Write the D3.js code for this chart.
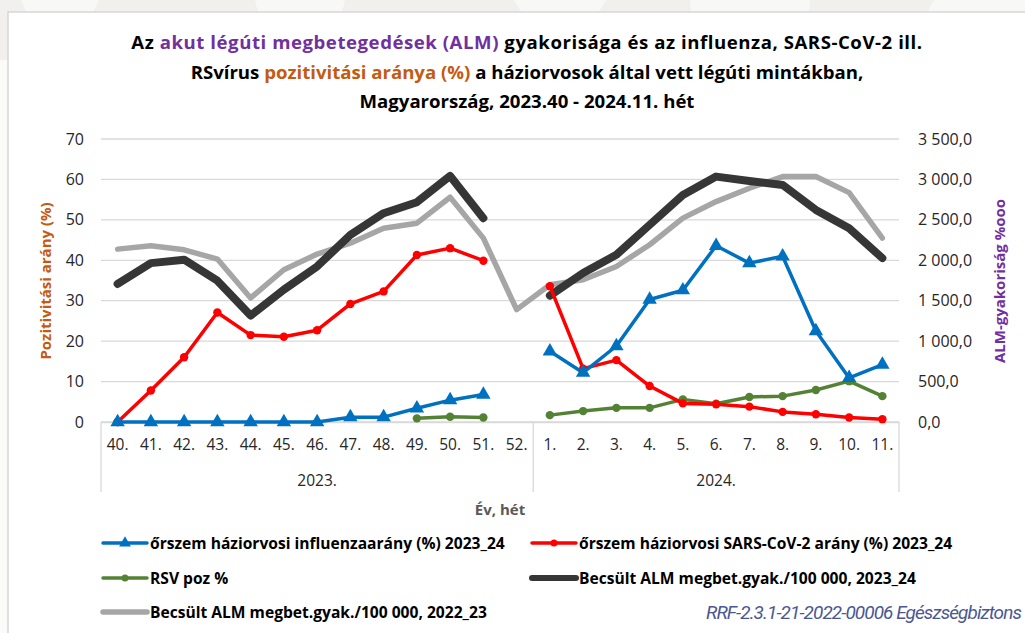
<!DOCTYPE html>
<html><head><meta charset="utf-8">
<script src="https://cdn.jsdelivr.net/npm/d3@7/dist/d3.min.js"></script>
<style>html,body{margin:0;padding:0;background:#f1f0ed;}svg{display:block;}</style>
</head><body>
<svg id="c" width="1025" height="633"></svg>
<script>
// ---- data ----
const weeks = ["40.","41.","42.","43.","44.","45.","46.","47.","48.","49.","50.","51.","52.","1.","2.","3.","4.","5.","6.","7.","8.","9.","10.","11."];
const years = [{label:"2023.", from:0, to:13},{label:"2024.", from:13, to:24}];
const influenza = [0,0,0,0,0,0,0,1.2,1.2,3.4,5.4,6.8,null,17.5,12.2,18.8,30.3,32.6,43.6,39.3,41.0,22.5,10.9,14.2];
const sarsCov2 = [0,7.8,16.0,27.1,21.5,21.1,22.7,29.2,32.3,41.3,43.0,39.9,null,33.6,13.2,15.3,8.9,4.6,4.4,3.8,2.5,1.9,1.1,0.7];
const rsv = [0,null,null,null,null,null,null,null,null,0.9,1.3,1.1,null,1.7,2.7,3.5,3.5,5.6,4.5,6.2,6.4,7.9,10.1,6.4];
const alm2324 = [1707,1965,2007,1748,1316,1637,1924,2315,2582,2718,3043,2521,null,1563,1842,2068,2438,2808,3035,2981,2932,2623,2397,2027];
const alm2223 = [2138,2179,2130,2015,1534,1883,2077,2212,2397,2459,2780,2274,1390,1698,1760,1924,2192,2521,2726,2891,3035,3035,2837,2274];
const leftTicks = [0,10,20,30,40,50,60,70];
const rightTicks = [0,500,1000,1500,2000,2500,3000,3500];
const titleLines = [
  [["Az ","#000"],["akut légúti megbetegedések (ALM)","#7030a0"],[" gyakorisága és az influenza, SARS-CoV-2 ill.","#000"]],
  [["RSvírus ","#000"],["pozitivitási aránya (%)","#c55a11"],[" a háziorvosok által vett légúti mintákban,","#000"]],
  [["Magyarország, 2023.40 - 2024.11. hét","#000"]]
];
const seriesNames = ["őrszem háziorvosi influenzaarány (%) 2023_24","őrszem háziorvosi SARS-CoV-2 arány (%) 2023_24","RSV poz %","Becsült ALM megbet.gyak./100 000, 2023_24","Becsült ALM megbet.gyak./100 000, 2022_23"];
const footerText = "RRF-2.3.1-21-2022-00006 Egészségbiztons";

// ---- layout ----
const svg = d3.select("#c");
const FONT = "'Open Sans', Lato, sans-serif";
const plot = {l:101, r:899, t:139, b:422};

// background decoration
const bg = svg.append("g");
bg.append("rect").attr("width",1025).attr("height",633).attr("fill","#f1f0ed");
[[60,-10,40],[300,-5,45],[560,-20,50],[750,0,60],[980,30,55]].forEach(c=>{
  bg.append("circle").attr("cx",c[0]).attr("cy",c[1]).attr("r",c[2]).attr("fill","#f8f8f6");
});
bg.append("rect").attr("x",0).attr("y",60).attr("width",8).attr("height",573).attr("fill","#fbfbfa");
svg.append("rect").attr("x",8).attr("y",12).attr("width",1030).attr("height",640)
  .attr("fill","#fff").attr("stroke","#d6d6d6").attr("stroke-width",1.5);

const x = d3.scaleBand().domain(d3.range(weeks.length)).range([plot.l, plot.r]);
const yL = d3.scaleLinear().domain([0,70]).range([plot.b, plot.t]);
const yR = d3.scaleLinear().domain([0,3500]).range([plot.b, plot.t]);
const cx = i => x(i) + x.bandwidth()/2;

// gridlines
svg.append("g").selectAll("line").data(leftTicks).join("line")
  .attr("x1",plot.l).attr("x2",plot.r).attr("y1",d=>yL(d)).attr("y2",d=>yL(d))
  .attr("stroke","#d9d9d9").attr("stroke-width",1.3);

// left axis
const axL = svg.append("g").attr("transform",`translate(${plot.l-17},0)`)
  .call(d3.axisLeft(yL).tickValues(leftTicks).tickSize(0).tickPadding(0));
axL.select(".domain").remove();
axL.selectAll("text").attr("font-family",FONT).attr("font-size",16).attr("fill","#262626");

// right axis
const fmtR = d => d3.format(",.1f")(d).replace(/,/g," ").replace(".",",");
const axR = svg.append("g").attr("transform",`translate(${plot.r+19},0)`)
  .call(d3.axisRight(yR).tickValues(rightTicks).tickSize(0).tickPadding(0).tickFormat(fmtR));
axR.select(".domain").remove();
axR.selectAll("text").attr("font-family",FONT).attr("font-size",16).attr("fill","#262626");

// x axis (categories)
const axX = svg.append("g").attr("transform",`translate(0,${plot.b})`)
  .call(d3.axisBottom(x).tickSize(0).tickPadding(17).tickFormat(i=>weeks[i]));
axX.select(".domain").attr("stroke","#d9d9d9").attr("stroke-width",1.3);
axX.selectAll("text").attr("font-family",FONT).attr("font-size",15.5).attr("fill","#262626");
// group separators
const seps = [0,13,24].map(i => i<weeks.length ? x(i) : plot.r);
svg.append("g").selectAll("line").data(seps).join("line")
  .attr("x1",d=>d).attr("x2",d=>d).attr("y1",plot.b).attr("y2",492)
  .attr("stroke","#d9d9d9").attr("stroke-width",1.3);
svg.append("g").selectAll("text").data(years).join("text")
  .attr("x",d=>(x(d.from) + (d.to<weeks.length?x(d.to):plot.r))/2).attr("y",486)
  .attr("text-anchor","middle").attr("font-family",FONT).attr("font-size",15.5).attr("fill","#262626")
  .text(d=>d.label);
svg.append("text").attr("x",500).attr("y",515).attr("text-anchor","middle")
  .attr("font-family",FONT).attr("font-weight","bold").attr("font-size",15).attr("fill","#595959").text("Év, hét");

// axis titles
svg.append("text").attr("transform","translate(51,281) rotate(-90)").attr("text-anchor","middle")
  .attr("font-family",FONT).attr("font-weight","bold").attr("font-size",15).attr("fill","#c55a11").text("Pozitivitási arány (%)");
svg.append("text").attr("transform","translate(1005,281) rotate(-90)").attr("text-anchor","middle")
  .attr("font-family",FONT).attr("font-weight","bold").attr("font-size",15).attr("fill","#7030a0").text("ALM-gyakoriság %ooo");

// title
const tg = svg.append("g");
titleLines.forEach((parts,k)=>{
  const t = tg.append("text").attr("x",527).attr("y",49+k*29.5).attr("text-anchor","middle")
    .attr("font-family",FONT).attr("font-weight","bold").attr("font-size",18.6)
    .attr("letter-spacing", k===0 ? 0.55 : 0);
  parts.forEach(p=>t.append("tspan").attr("fill",p[1]).text(p[0]));
});

// series
const series = [
  {vals:alm2223, y:yR, color:"#a6a6a6", w:5.5, marker:null},
  {vals:alm2324, y:yR, color:"#363636", w:8, marker:null},
  {vals:rsv, y:yL, color:"#548235", w:3.5, marker:"dot"},
  {vals:sarsCov2, y:yL, color:"#ff0000", w:3.5, marker:"dot"},
  {vals:influenza, y:yL, color:"#0070c0", w:3.5, marker:"tri"}
];
series.forEach(s=>{
  const line = d3.line().defined(d=>d!=null).x((d,i)=>cx(i)).y(d=>s.y(d));
  svg.append("path").datum(s.vals).attr("d",line).attr("fill","none")
    .attr("stroke",s.color).attr("stroke-width",s.w).attr("stroke-linejoin","round").attr("stroke-linecap","round");
  const pts = s.vals.map((v,i)=>({v,i})).filter(d=>d.v!=null);
  if(s.marker==="dot"){
    svg.append("g").selectAll("circle").data(pts).join("circle")
      .attr("cx",d=>cx(d.i)).attr("cy",d=>s.y(d.v)).attr("r",4.2).attr("fill",s.color);
  } else if(s.marker==="tri"){
    const sym = d3.symbol().type(d3.symbolTriangle).size(90);
    svg.append("g").selectAll("path").data(pts).join("path")
      .attr("d",sym).attr("transform",d=>`translate(${cx(d.i)},${s.y(d.v)})`).attr("fill",s.color);
  }
});

// legend
const legendItems = [
  {name:seriesNames[0], color:"#0070c0", w:3.5, marker:"tri", x:101, y:543},
  {name:seriesNames[1], color:"#ff0000", w:3.5, marker:"dot", x:530, y:543},
  {name:seriesNames[2], color:"#548235", w:3.5, marker:"dot", x:101, y:578},
  {name:seriesNames[3], color:"#363636", w:6, marker:null, x:530, y:578},
  {name:seriesNames[4], color:"#a6a6a6", w:5.5, marker:null, x:101, y:612}
];
const lg = svg.append("g");
legendItems.forEach(it=>{
  lg.append("line").attr("x1",it.x+2).attr("x2",it.x+46).attr("y1",it.y).attr("y2",it.y)
    .attr("stroke",it.color).attr("stroke-width",it.w).attr("stroke-linecap","round");
  if(it.marker==="dot") lg.append("circle").attr("cx",it.x+24).attr("cy",it.y).attr("r",3.5).attr("fill",it.color);
  if(it.marker==="tri") lg.append("path").attr("d",d3.symbol().type(d3.symbolTriangle).size(60))
    .attr("transform",`translate(${it.x+24},${it.y})`).attr("fill",it.color);
  lg.append("text").attr("x",it.x+49).attr("y",it.y+5.5).attr("font-family",FONT).attr("font-weight","bold")
    .attr("font-size",15.6).attr("fill","#000").text(it.name);
});

// footer (fitted inside the page so it is not clipped)
const ft = svg.append("text").attr("x",706).attr("y",619).attr("font-family","'Liberation Sans Narrow', 'Roboto', sans-serif")
  .attr("font-style","italic").attr("font-size",19).attr("letter-spacing",-0.9).attr("fill","#4a5794")
  .text(footerText);
const fw = ft.node().getComputedTextLength();
if (fw > 1021 - 706) ft.attr("textLength", 1021 - 706).attr("lengthAdjust","spacingAndGlyphs");
</script>
</body></html>
